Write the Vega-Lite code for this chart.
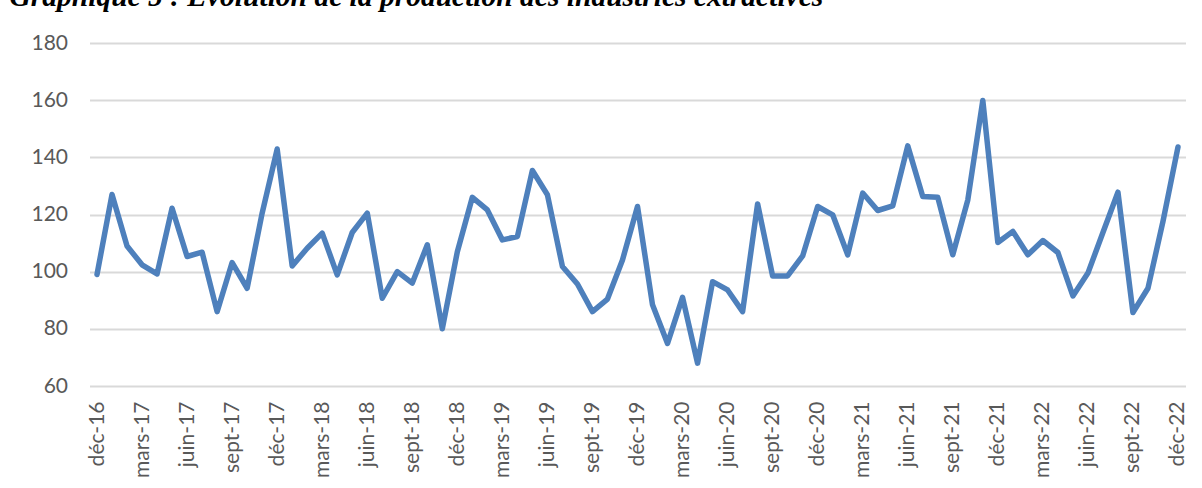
{
  "$schema": "https://vega.github.io/schema/vega-lite/v6.json",
  "autosize": {"type": "none"},
  "width": 1096,
  "height": 343,
  "padding": {"left": 89.5, "top": 43, "right": 16.5, "bottom": 102},
  "background": "white",
  "title": {
    "text": "Graphique 5 : Evolution de la production des industries extractives",
    "anchor": "start",
    "frame": "group",
    "orient": "top",
    "dx": -80,
    "dy": 3,
    "offset": 0,
    "baseline": "alphabetic",
    "font": "Liberation Serif",
    "fontSize": 29.5,
    "fontStyle": "italic",
    "fontWeight": "bold",
    "color": "#000000"
  },
  "config": {
    "view": {"stroke": null},
    "axis": {
      "labelFont": "Lato",
      "labelFontSize": 21,
      "labelColor": "#595959",
      "domain": false,
      "ticks": false,
      "title": null
    }
  },
  "data": {
    "values": [
      {"mois": "déc-16", "valeur": 99},
      {"mois": "janv-17", "valeur": 127},
      {"mois": "févr-17", "valeur": 109},
      {"mois": "mars-17", "valeur": 102.4},
      {"mois": "avr-17", "valeur": 99.2},
      {"mois": "mai-17", "valeur": 122.2},
      {"mois": "juin-17", "valeur": 105.3},
      {"mois": "juil-17", "valeur": 106.8},
      {"mois": "août-17", "valeur": 86},
      {"mois": "sept-17", "valeur": 103.2},
      {"mois": "oct-17", "valeur": 94.2},
      {"mois": "nov-17", "valeur": 120.5},
      {"mois": "déc-17", "valeur": 142.9},
      {"mois": "janv-18", "valeur": 102},
      {"mois": "févr-18", "valeur": 108.2},
      {"mois": "mars-18", "valeur": 113.5},
      {"mois": "avr-18", "valeur": 98.9},
      {"mois": "mai-18", "valeur": 113.7},
      {"mois": "juin-18", "valeur": 120.5},
      {"mois": "juil-18", "valeur": 90.7},
      {"mois": "août-18", "valeur": 100},
      {"mois": "sept-18", "valeur": 96},
      {"mois": "oct-18", "valeur": 109.4},
      {"mois": "nov-18", "valeur": 80},
      {"mois": "déc-18", "valeur": 107},
      {"mois": "janv-19", "valeur": 126},
      {"mois": "févr-19", "valeur": 121.6},
      {"mois": "mars-19", "valeur": 111.1},
      {"mois": "avr-19", "valeur": 112.3},
      {"mois": "mai-19", "valeur": 135.4},
      {"mois": "juin-19", "valeur": 126.9},
      {"mois": "juil-19", "valeur": 101.8},
      {"mois": "août-19", "valeur": 95.7},
      {"mois": "sept-19", "valeur": 86},
      {"mois": "oct-19", "valeur": 90.4},
      {"mois": "nov-19", "valeur": 104.1},
      {"mois": "déc-19", "valeur": 122.8},
      {"mois": "janv-20", "valeur": 88.4},
      {"mois": "févr-20", "valeur": 74.9},
      {"mois": "mars-20", "valeur": 91},
      {"mois": "avr-20", "valeur": 68},
      {"mois": "mai-20", "valeur": 96.5},
      {"mois": "juin-20", "valeur": 93.6},
      {"mois": "juil-20", "valeur": 86},
      {"mois": "août-20", "valeur": 123.7},
      {"mois": "sept-20", "valeur": 98.5},
      {"mois": "oct-20", "valeur": 98.5},
      {"mois": "nov-20", "valeur": 105.5},
      {"mois": "déc-20", "valeur": 122.8},
      {"mois": "janv-21", "valeur": 119.9},
      {"mois": "févr-21", "valeur": 105.9},
      {"mois": "mars-21", "valeur": 127.5},
      {"mois": "avr-21", "valeur": 121.4},
      {"mois": "mai-21", "valeur": 123},
      {"mois": "juin-21", "valeur": 144},
      {"mois": "juil-21", "valeur": 126.3},
      {"mois": "août-21", "valeur": 126},
      {"mois": "sept-21", "valeur": 105.9},
      {"mois": "oct-21", "valeur": 125.1},
      {"mois": "nov-21", "valeur": 159.9},
      {"mois": "déc-21", "valeur": 110.2},
      {"mois": "janv-22", "valeur": 114.1},
      {"mois": "févr-22", "valeur": 105.9},
      {"mois": "mars-22", "valeur": 110.9},
      {"mois": "avr-22", "valeur": 106.7},
      {"mois": "mai-22", "valeur": 91.5},
      {"mois": "juin-22", "valeur": 99.5},
      {"mois": "juil-22", "valeur": 113.7},
      {"mois": "août-22", "valeur": 127.8},
      {"mois": "sept-22", "valeur": 85.7},
      {"mois": "oct-22", "valeur": 94.2},
      {"mois": "nov-22", "valeur": 117.6},
      {"mois": "déc-22", "valeur": 143.6}
    ]
  },
  "mark": {
    "type": "line",
    "color": "#4E80BC",
    "strokeWidth": 5.5,
    "strokeCap": "round",
    "strokeJoin": "round"
  },
  "encoding": {
    "x": {
      "field": "mois",
      "type": "ordinal",
      "sort": null,
      "scale": {"type": "point", "padding": 0.5},
      "axis": {
        "values": ["déc-16", "mars-17", "juin-17", "sept-17", "déc-17", "mars-18", "juin-18", "sept-18", "déc-18", "mars-19", "juin-19", "sept-19", "déc-19", "mars-20", "juin-20", "sept-20", "déc-20", "mars-21", "juin-21", "sept-21", "déc-21", "mars-22", "juin-22", "sept-22", "déc-22"],
        "labelAngle": -90,
        "labelPadding": 15,
        "grid": false
      }
    },
    "y": {
      "field": "valeur",
      "type": "quantitative",
      "scale": {"domain": [60, 180], "nice": false, "zero": false},
      "axis": {
        "values": [60, 80, 100, 120, 140, 160, 180],
        "labelPadding": 22,
        "grid": true,
        "gridColor": "#D9D9D9",
        "gridWidth": 2
      }
    }
  }
}
